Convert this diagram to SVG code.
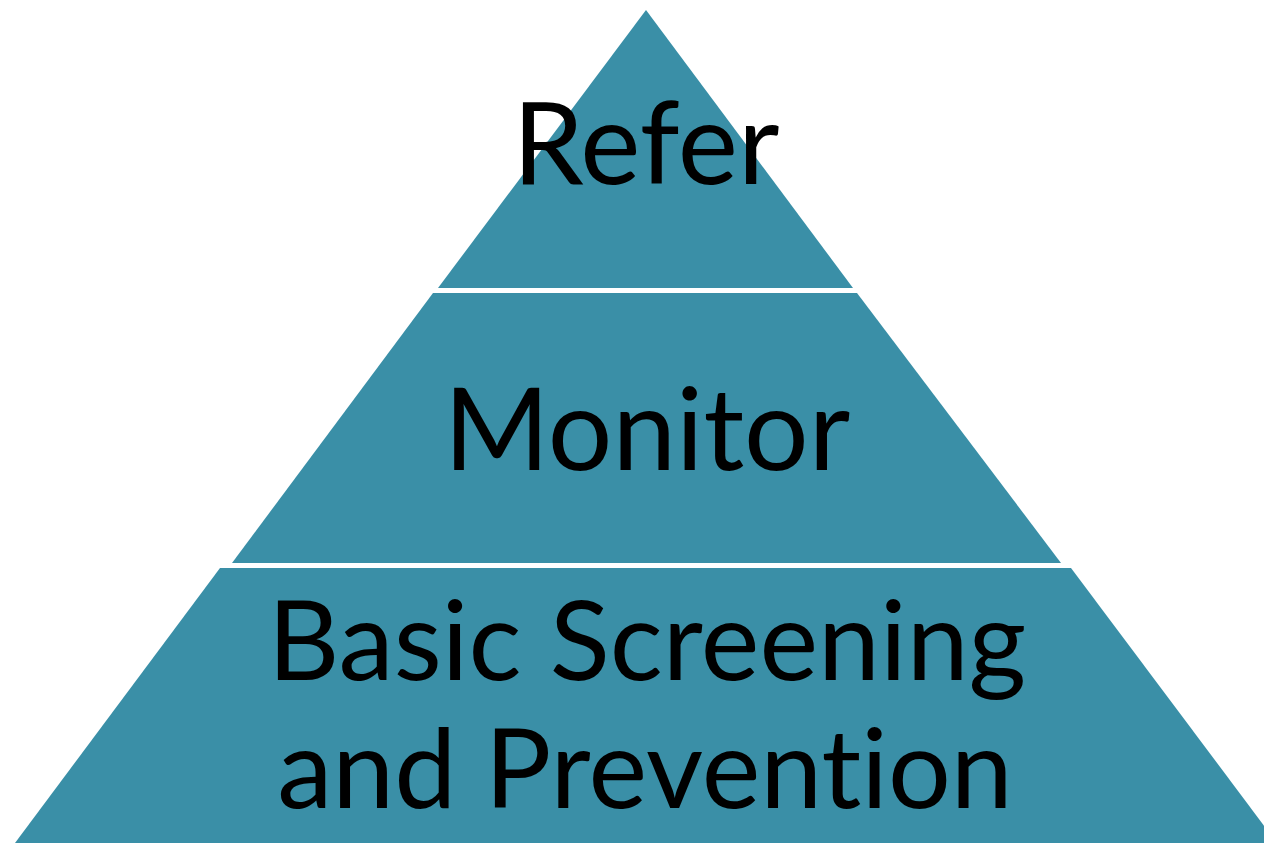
<svg xmlns="http://www.w3.org/2000/svg" width="1264" height="843" viewBox="0 0 1264 843">
  <style>
    .tier { fill: #3A8FA7; }
    .label { font-family: Lato, "Open Sans", "Liberation Sans", sans-serif; font-size: 114px; fill: #000; text-anchor: middle; font-variant-ligatures: none; }
    .label.small { font-size: 111px; }
  </style>
  <rect width="1264" height="843" fill="#ffffff"/>
  <g id="tier-refer">
    <polygon class="tier" points="646,10 853,288 438,288"/>
    <text class="label" x="646" y="184">Refer</text>
  </g>
  <g id="tier-monitor">
    <polygon class="tier" points="433,293 857,293 1061,563 232,563"/>
    <text class="label" x="647" y="470">Monitor</text>
  </g>
  <g id="tier-basic">
    <polygon class="tier" points="220,568 1071,568 1277,843 15,843"/>
    <text class="label small" x="647" y="680">Basic Screening</text>
    <text class="label small" x="645" y="808">and Prevention</text>
  </g>
  <g id="connectors"/>
</svg>
